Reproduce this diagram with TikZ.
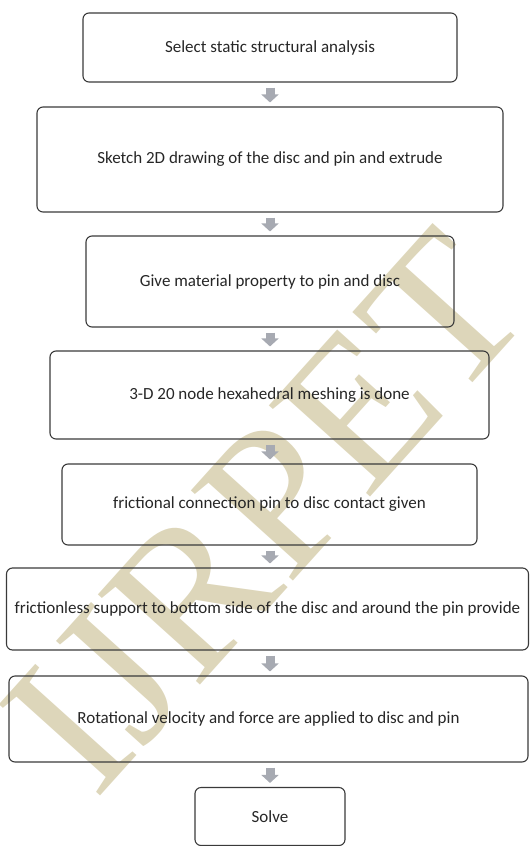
\documentclass[tikz,border=0pt]{standalone}
\usepackage{fontspec}
\setmainfont{Carlito}
\newfontfamily\markfont{Liberation Serif}
\usetikzlibrary{arrows.meta}

\definecolor{boxline}{HTML}{3A3A3A}
\definecolor{arrowgray}{HTML}{A7AAB2}
\definecolor{markcolor}{HTML}{DDD6BA}

\begin{document}
\begin{tikzpicture}[x=1pt, y=-1pt, line width=1.1pt,
    stepbox/.style={draw=boxline, rounded corners=6pt, align=center,
        font=\fontsize{17}{20}\selectfont, text=black!85, inner sep=0pt},
    flowarrow/.style={draw=arrowgray, line width=9pt,
        -{Triangle[width=17pt,length=8pt]}, shorten <=5pt, shorten >=4pt}]
\useasboundingbox (0,0) rectangle (530,846);

% watermark
\node[text=markcolor, rotate=48, font=\markfont\fontsize{208}{208}\selectfont]
    (mark) at (266,512) {IJRPET};

\node[stepbox, minimum width=374pt, minimum height=69pt] (s1) at (270,47.5)
    {Select static structural analysis};
\node[stepbox, minimum width=466pt, minimum height=105pt] (s2) at (270,159.5)
    {\raisebox{-4pt}{Sketch 2D drawing of the disc and pin and extrude}};
\node[stepbox, minimum width=368pt, minimum height=91pt] (s3) at (270,281.5)
    {Give material property to pin and disc};
\node[stepbox, minimum width=439pt, minimum height=88pt] (s4) at (269.5,395)
    {3-D 20 node hexahedral meshing is done};
\node[stepbox, minimum width=415pt, minimum height=81pt] (s5) at (269.5,504.5)
    {frictional connection pin to disc contact given};
\node[stepbox, minimum width=522pt, minimum height=82pt] (s6) at (267.5,609)
    {frictionless support to bottom side of the disc and around the pin provide};
\node[stepbox, minimum width=519pt, minimum height=86pt] (s7) at (268.5,719)
    {Rotational velocity and force are applied to disc and pin};
\node[stepbox, minimum width=150pt, minimum height=58pt] (s8) at (270,816.5)
    {Solve};

\foreach \a/\b in {s1/s2,s2/s3,s3/s4,s4/s5,s5/s6,s6/s7,s7/s8}
    \draw[flowarrow] (s1.south |- \a.south) -- (s1.south |- \b.north);
\end{tikzpicture}
\end{document}
